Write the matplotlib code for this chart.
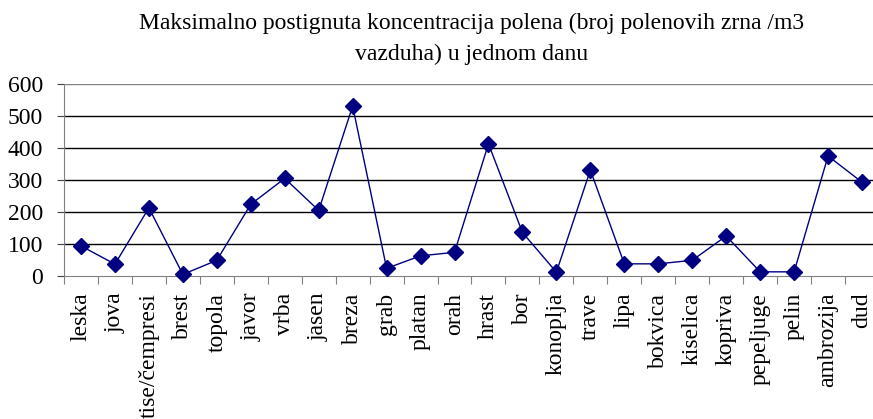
import matplotlib.pyplot as plt

# pollen types and the max daily concentration
vrste = ['leska', 'jova', 'tise/čempresi', 'brest', 'topola', 'javor', 'vrba',
         'jasen', 'breza', 'grab', 'platan', 'orah', 'hrast', 'bor',
         'konoplja', 'trave', 'lipa', 'bokvica', 'kiselica', 'kopriva',
         'pepeljuge', 'pelin', 'ambrozija', 'dud']
koncentracija = [94, 37, 213, 5, 49, 224, 305, 205, 531, 24, 63, 74, 413,
                 136, 12, 331, 38, 38, 49, 125, 13, 13, 375, 293]
y_ticks = [0, 100, 200, 300, 400, 500, 600]

plt.rcParams['font.family'] = ['Liberation Serif', 'DejaVu Serif']

fig = plt.figure(figsize=(8.73, 4.19), dpi=100)
# plot area runs a bit past the right edge, like the original
ax = fig.add_axes([64 / 873, 1 - 276 / 419, 815 / 873, 192 / 419])

x = list(range(len(vrste)))
color = '#000080'
ax.plot(x, koncentracija, color=color, linewidth=1, marker='D',
        markersize=8, zorder=3, clip_on=False)

ax.set_xlim(-0.5, len(vrste) - 0.5)
ax.set_ylim(0, 600)
ax.set_yticks(y_ticks)
ax.tick_params(axis='y', labelsize=17, length=5, color='#404040', pad=10)

# gridlines: black, the top one gray
for v in y_ticks[1:-1]:
    ax.axhline(v, color='black', linewidth=1, zorder=1)
ax.axhline(600, color='#808080', linewidth=1, zorder=1)

# category ticks sit between the labels
ax.set_xticks([i - 0.5 for i in range(len(vrste) + 1)])
ax.set_xticklabels([])
ax.set_xticks(x, minor=True)
ax.set_xticklabels(vrste, minor=True, rotation=90, fontsize=17)
ax.tick_params(axis='x', which='major', length=6, color='#808080')
ax.tick_params(axis='x', which='minor', length=0, pad=12)

for side in ['top', 'right']:
    ax.spines[side].set_visible(False)
for side in ['left', 'bottom']:
    ax.spines[side].set_color('#808080')

ax.set_title('Maksimalno postignuta koncentracija polena (broj polenovih zrna /m3\n'
             'vazduha) u jednom danu', fontsize=17, linespacing=1.6, pad=17)

fig.savefig('out.png', dpi=100)
